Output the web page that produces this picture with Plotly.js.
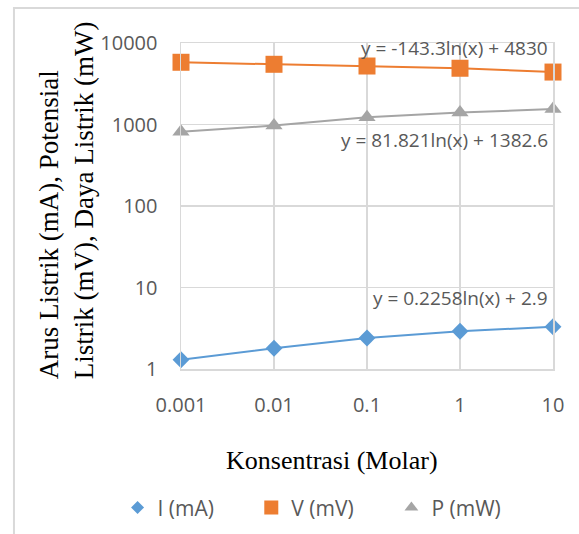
<!DOCTYPE html>
<html>
<head>
<meta charset="utf-8">
<script src="https://cdn.plot.ly/plotly-3.0.1.min.js"></script>
<style>html,body{margin:0;padding:0;background:#fff;}#chart{width:579px;height:534px;}</style>
</head>
<body>
<div id="chart"></div>
<script>
const categories = ["0.001", "0.01", "0.1", "1", "10"];
const currentI = [1.3, 1.8, 2.4, 2.9, 3.3];
const voltageV = [5800, 5480, 5220, 4900, 4400];
const powerP = [817, 970, 1225, 1400, 1550];
const seriesNames = ["I (mA)", "V (mV)", "P (mW)"];
const equations = ["y = -143.3ln(x) + 4830", "y = 81.821ln(x) + 1382.6", "y = 0.2258ln(x) + 2.9"];
const yTickVals = [1, 10, 100, 1000, 10000];
const yTickText = ["1", "10", "100", "1000", "10000"];

const tickFont = {family: "Open Sans, sans-serif", size: 20, color: "#595959"};
const eqFont = {family: "Open Sans, sans-serif", size: 19, color: "#595959"};
const legFont = {family: "Open Sans, sans-serif", size: 21, color: "#595959"};
const serif = {family: "Liberation Serif, Times New Roman, serif", size: 26, color: "#000"};
const serifY = {family: "Liberation Serif, Times New Roman, serif", size: 27, color: "#000"};

const colors = ["#5B9BD5", "#ED7D31", "#A5A5A5"];
const symbols = ["diamond", "square", "triangle-up"];
const sizes = [13, 17, 15];
const series = [currentI, voltageV, powerP];
const legendIds = ["legend", "legend2", "legend3"];

const traces = [];
series.forEach((vals, i) => {
  traces.push({x: categories, y: vals, name: seriesNames[i], type: "scatter", mode: "lines+markers",
    showlegend: false, line: {color: colors[i], width: 2},
    marker: {symbol: symbols[i], size: sizes[i], color: colors[i]}, cliponaxis: false});
});
series.forEach((vals, i) => {
  traces.push({x: [null], y: [null], name: seriesNames[i], type: "scatter", mode: "markers",
    showlegend: true, legend: legendIds[i],
    marker: {symbol: symbols[i], size: sizes[i] - 3, color: colors[i]}});
});

function leg(xc) {
  return {orientation: "h", xref: "container", x: xc, xanchor: "left",
          yref: "container", y: 0.049, yanchor: "middle",
          font: legFont, itemwidth: 30, bgcolor: "rgba(0,0,0,0)"};
}

const layout = {
  width: 579, height: 534,
  margin: {l: 181, r: 26, t: 43, b: 165, autoexpand: false},
  paper_bgcolor: "#fff", plot_bgcolor: "#fff",
  showlegend: true,
  legend: leg(0.203),
  legend2: leg(0.434),
  legend3: leg(0.676),
  xaxis: {type: "category", range: [0, 4], showgrid: true, gridcolor: "#d9d9d9", gridwidth: 1.5,
          showline: true, linecolor: "#d9d9d9", linewidth: 1.5, mirror: true, zeroline: false,
          ticks: "", tickfont: tickFont, ticklabelstandoff: 17, automargin: false},
  yaxis: {type: "log", range: [0, 4], tickvals: yTickVals, ticktext: yTickText,
          showgrid: true, gridcolor: "#d9d9d9", gridwidth: 1.5,
          showline: true, linecolor: "#d9d9d9", linewidth: 1.5, mirror: true, zeroline: false,
          ticks: "", tickfont: tickFont, ticklabelstandoff: 18, automargin: false},
  annotations: [
    {xref: "paper", yref: "paper", x: 0.992, y: 0.985, xanchor: "right", yanchor: "middle",
     text: equations[0], showarrow: false, font: eqFont},
    {xref: "paper", yref: "paper", x: 0.992, y: 0.702, xanchor: "right", yanchor: "middle",
     text: equations[1], showarrow: false, font: eqFont},
    {xref: "paper", yref: "paper", x: 0.992, y: 0.218, xanchor: "right", yanchor: "middle",
     text: equations[2], showarrow: false, font: eqFont},
    {xref: "paper", yref: "paper", x: -0.309, y: 0.518, xanchor: "center", yanchor: "middle",
     textangle: -90, align: "left", showarrow: false, font: serifY,
     text: "Arus Listrik (mA), Potensial<br>Listrik (mV), Daya Listrik (mW)"},
    {xref: "paper", yref: "paper", x: 0.406, y: -0.28, xanchor: "center", yanchor: "middle",
     showarrow: false, font: serif, text: "Konsentrasi (Molar)"}
  ],
  shapes: [
    {type: "rect", xref: "paper", yref: "paper", x0: -0.449, x1: 1.2, y0: -0.65, y1: 1.107,
     line: {color: "#d9d9d9", width: 2}, fillcolor: "rgba(0,0,0,0)", layer: "below"}
  ]
};

Plotly.newPlot("chart", traces, layout, {displayModeBar: false, staticPlot: true});
</script>
</body>
</html>
